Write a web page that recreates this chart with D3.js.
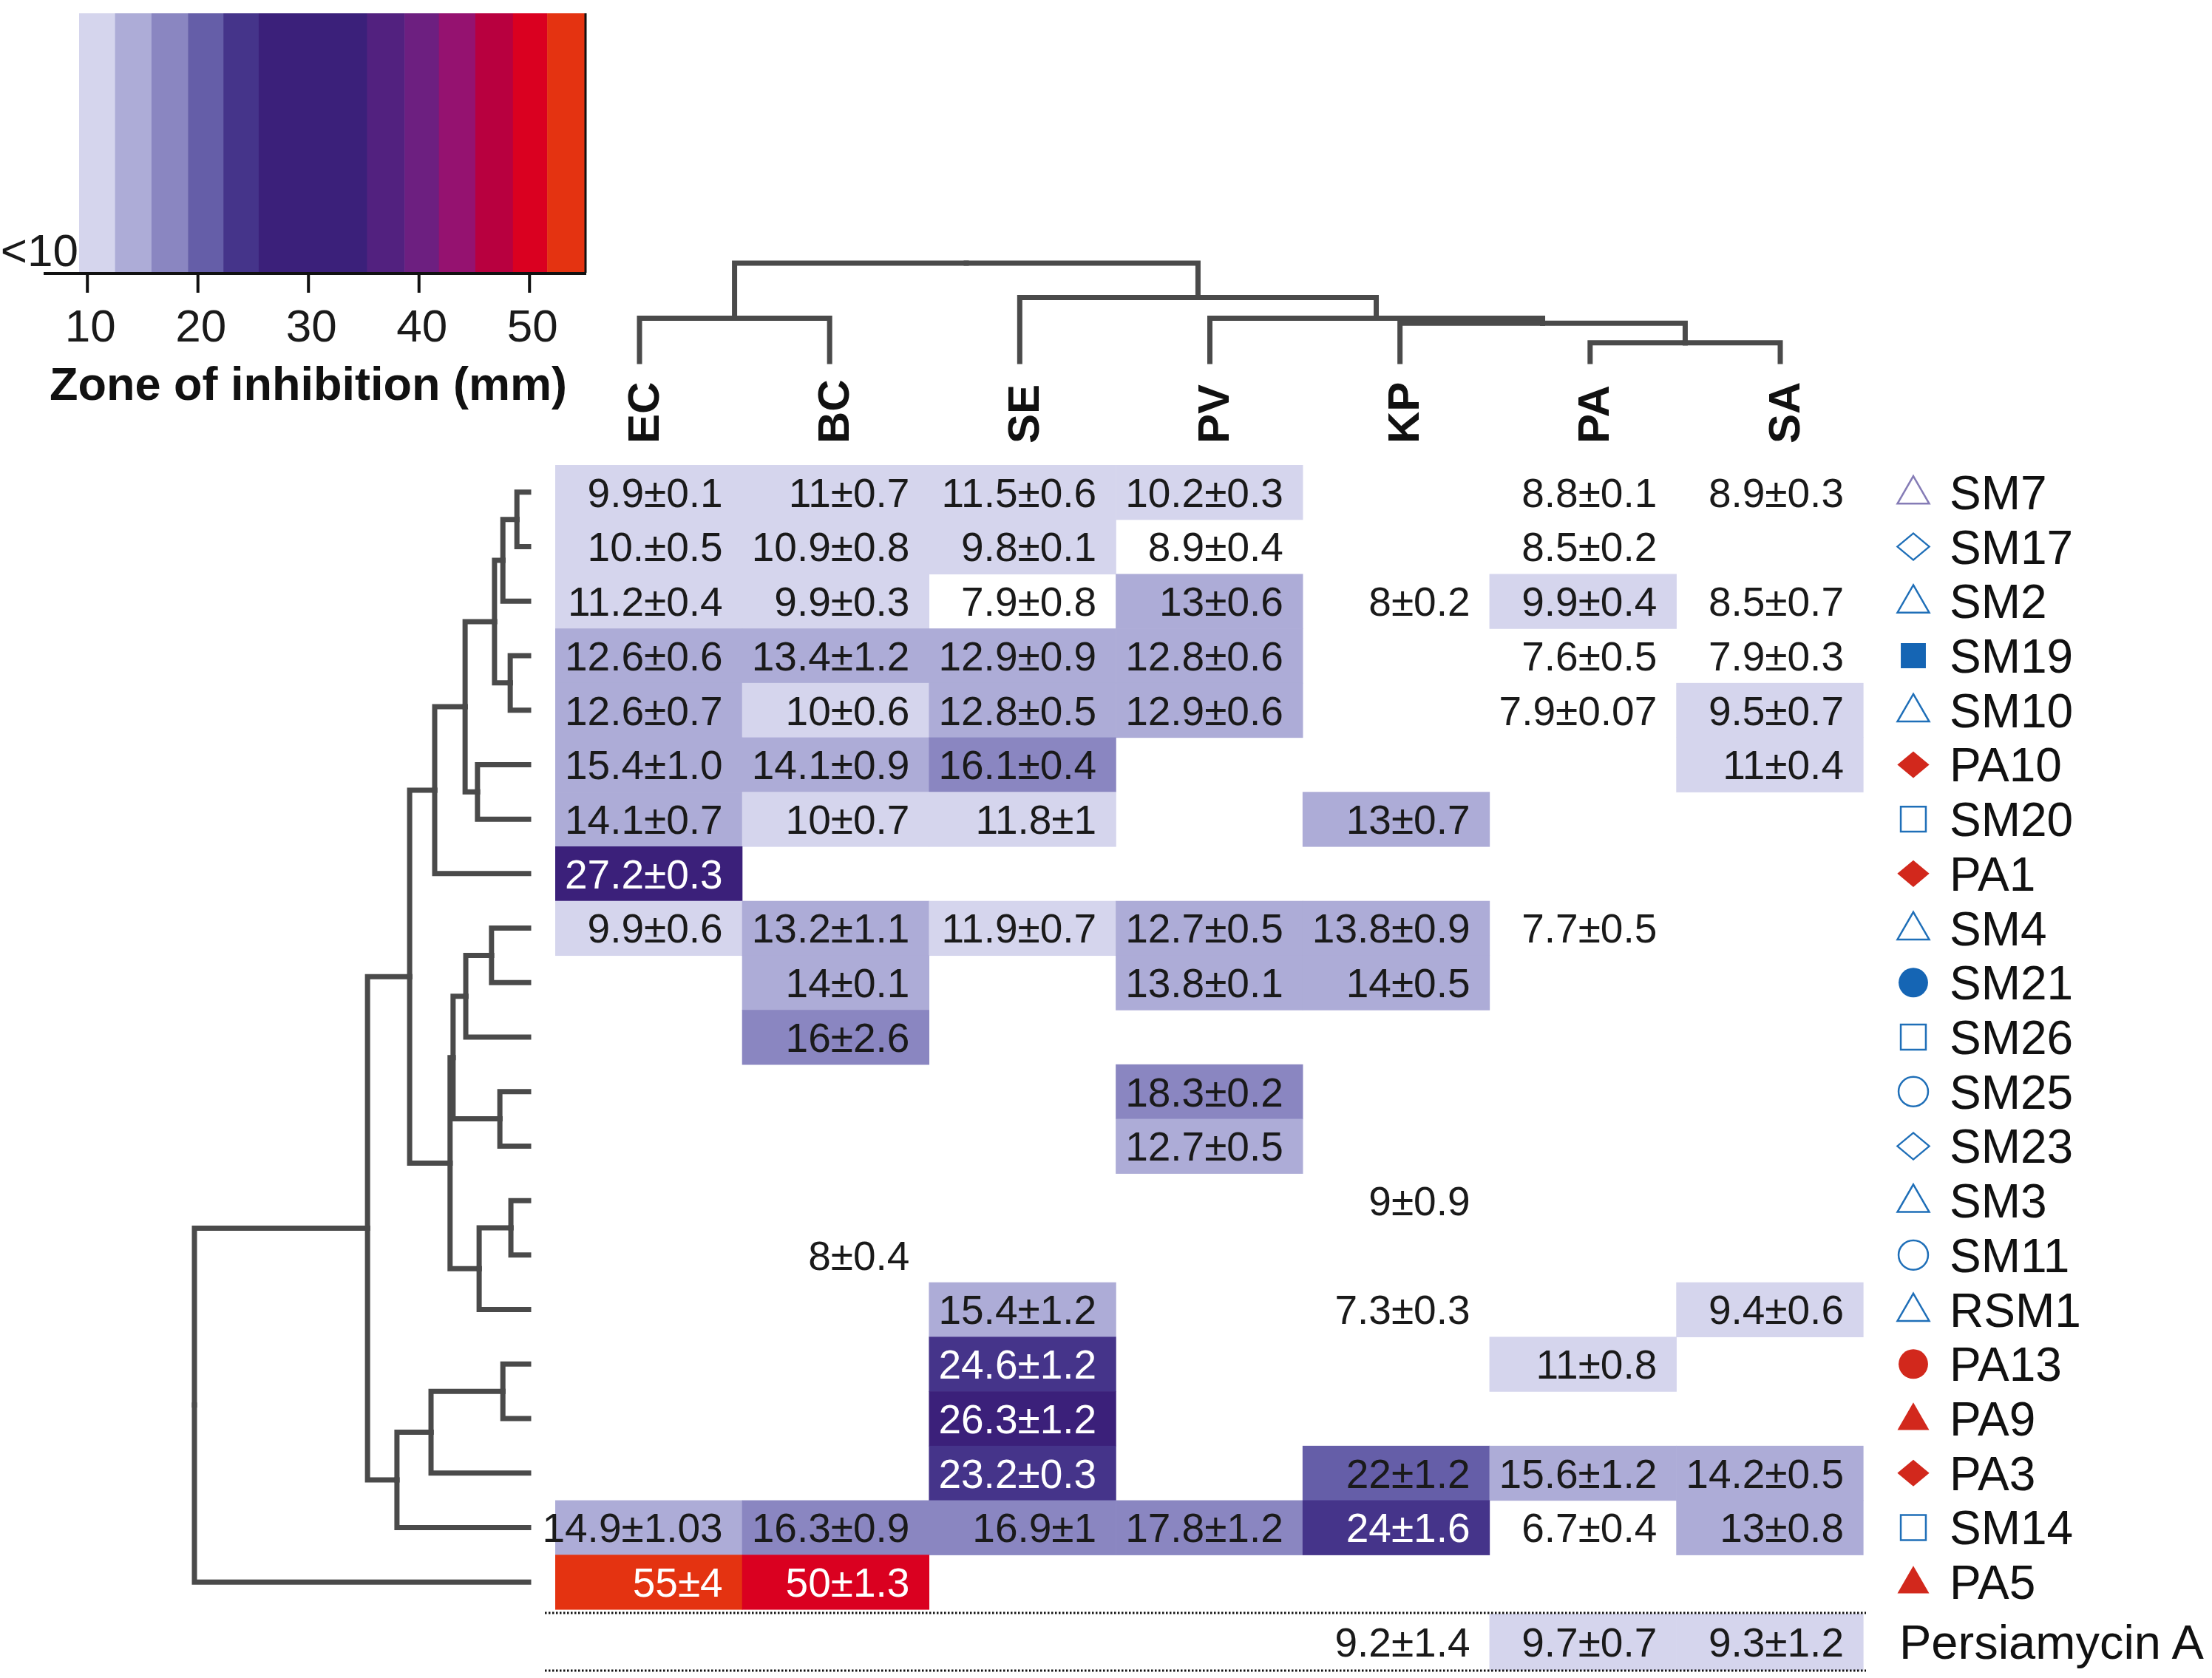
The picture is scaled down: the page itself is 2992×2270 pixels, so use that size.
<!DOCTYPE html>
<html>
<head>
<meta charset="utf-8">
<script src="https://cdn.jsdelivr.net/npm/d3@7"></script>
<style>
  body { margin: 0; background: #fff; }
  text { font-family: "Liberation Sans", Arial, sans-serif; }
</style>
</head>
<body>
<div id="viz"></div>
<script>
var cols = ["EC", "BC", "SE", "PV", "KP", "PA", "SA"];
var rows = ["SM7", "SM17", "SM2", "SM19", "SM10", "PA10", "SM20", "PA1", "SM4", "SM21", "SM26",
            "SM25", "SM23", "SM3", "SM11", "RSM1", "PA13", "PA9", "PA3", "SM14", "PA5"];
var rowShape = ["triangle", "diamond", "triangle", "square", "triangle", "diamond", "square", "diamond",
                "triangle", "circle", "square", "circle", "diamond", "triangle", "circle", "triangle",
                "circle", "triangle", "diamond", "square", "triangle"];
var rowFilled = [0, 0, 0, 1, 0, 1, 0, 1, 0, 1, 0, 0, 0, 0, 0, 0, 1, 1, 1, 0, 1];

// zone of inhibition "mean±sd" per row, columns in the order of cols; null = no zone
var zones = [
  ["9.9±0.1", "11±0.7", "11.5±0.6", "10.2±0.3", null, "8.8±0.1", "8.9±0.3"],
  ["10.±0.5", "10.9±0.8", "9.8±0.1", "8.9±0.4", null, "8.5±0.2", null],
  ["11.2±0.4", "9.9±0.3", "7.9±0.8", "13±0.6", "8±0.2", "9.9±0.4", "8.5±0.7"],
  ["12.6±0.6", "13.4±1.2", "12.9±0.9", "12.8±0.6", null, "7.6±0.5", "7.9±0.3"],
  ["12.6±0.7", "10±0.6", "12.8±0.5", "12.9±0.6", null, "7.9±0.07", "9.5±0.7"],
  ["15.4±1.0", "14.1±0.9", "16.1±0.4", null, null, null, "11±0.4"],
  ["14.1±0.7", "10±0.7", "11.8±1", null, "13±0.7", null, null],
  ["27.2±0.3", null, null, null, null, null, null],
  ["9.9±0.6", "13.2±1.1", "11.9±0.7", "12.7±0.5", "13.8±0.9", "7.7±0.5", null],
  [null, "14±0.1", null, "13.8±0.1", "14±0.5", null, null],
  [null, "16±2.6", null, null, null, null, null],
  [null, null, null, "18.3±0.2", null, null, null],
  [null, null, null, "12.7±0.5", null, null, null],
  [null, null, null, null, "9±0.9", null, null],
  [null, "8±0.4", null, null, null, null, null],
  [null, null, "15.4±1.2", null, "7.3±0.3", null, "9.4±0.6"],
  [null, null, "24.6±1.2", null, null, "11±0.8", null],
  [null, null, "26.3±1.2", null, null, null, null],
  [null, null, "23.2±0.3", null, "22±1.2", "15.6±1.2", "14.2±0.5"],
  ["14.9±1.03", "16.3±0.9", "16.9±1", "17.8±1.2", "24±1.6", "6.7±0.4", "13±0.8"],
  ["55±4", "50±1.3", null, null, null, null, null]
];
var controlName = "Persiamycin A";
var controlZones = [null, null, null, null, "9.2±1.4", "9.7±0.7", "9.3±1.2"];

// colour bar: band edges (mm) and band colours
var cbStops = [9.25, 12.5, 15.8, 19.1, 22.3, 25.5, 35.3, 38.7, 41.8, 45.1, 48.5, 51.6, 55];
var cbColors = ["#d5d5ed", "#adacd7", "#8a86c1", "#655ea8", "#45348a", "#3b207a", "#52217f",
                "#6d1f80", "#951270", "#b8003f", "#da0020", "#e43311"];
var cbTicks = [10, 20, 30, 40, 50];

// dendrograms (h = relative linkage distance)
var colTree = {h: 1.0, c: [
  {h: 0.44, c: [{n: "EC"}, {n: "BC"}]},
  {h: 0.65, c: [{n: "SE"},
    {h: 0.44, c: [{n: "PV"},
      {h: 0.39, c: [{n: "KP"}, {h: 0.19, c: [{n: "PA"}, {n: "SA"}]}]}]}]}
]};
var rowTree = {h: 1.0, c: [
  {h: 0.482, c: [
    {h: 0.356, c: [
      {h: 0.281, c: [
        {h: 0.190, c: [
          {h: 0.102, c: [
            {h: 0.077, c: [{h: 0.035, c: [{n: "SM7"}, {n: "SM17"}]}, {n: "SM2"}]},
            {h: 0.055, c: [{n: "SM19"}, {n: "SM10"}]}]},
          {h: 0.153, c: [{n: "PA10"}, {n: "SM20"}]}]},
        {n: "PA1"}]},
      {h: 0.235, c: [
        {h: 0.226, c: [
          {h: 0.188, c: [{h: 0.111, c: [{n: "SM4"}, {n: "SM21"}]}, {n: "SM26"}]},
          {h: 0.086, c: [{n: "SM25"}, {n: "SM23"}]}]},
        {h: 0.148, c: [{h: 0.053, c: [{n: "SM3"}, {n: "SM11"}]}, {n: "RSM1"}]}]}]},
    {h: 0.394, c: [
      {h: 0.292, c: [{h: 0.077, c: [{n: "PA13"}, {n: "PA9"}]}, {n: "PA3"}]},
      {n: "SM14"}]}]},
  {n: "PA5"}
]};

var W = 2992, H = 2270;
var svg = d3.select("#viz").append("svg").attr("width", W).attr("height", H);

var x = d3.scaleBand().domain(cols).range([751, 2520]);
var xLeaf = d3.scalePoint().domain(cols).range([865, 2408]);
var y = d3.scaleBand().domain(rows).range([629, 2177]);
var yCtrl = [2183, 2259];
var heat = d3.scaleThreshold().domain(cbStops.slice(0, -1)).range([null].concat(cbColors));

function mean(s) { return parseFloat(s.split("±")[0]); }

// ---- colour bar ----
var cx = d3.scaleLinear().domain([cbStops[0], cbStops[cbStops.length - 1]]).range([107, 791]);
var cbTop = 18, cbBot = 369;
svg.append("g").selectAll("rect")
  .data(cbColors)
  .enter().append("rect")
  .attr("x", function(d, i) { return cx(cbStops[i]); })
  .attr("width", function(d, i) { return cx(cbStops[i + 1]) - cx(cbStops[i]) + 0.5; })
  .attr("y", cbTop).attr("height", cbBot - cbTop)
  .attr("fill", function(d) { return d; });
svg.append("line").attr("x1", cx.range()[1] + 1).attr("x2", cx.range()[1] + 1)
  .attr("y1", cbTop).attr("y2", cbBot).attr("stroke", "#111").attr("stroke-width", 3);
svg.append("line").attr("x1", 59).attr("x2", 793).attr("y1", cbBot + 1).attr("y2", cbBot + 1)
  .attr("stroke", "#111").attr("stroke-width", 4);
var cbAxis = svg.append("g").selectAll("g").data(cbTicks).enter().append("g");
cbAxis.append("line")
  .attr("x1", function(d) { return cx(d); }).attr("x2", function(d) { return cx(d); })
  .attr("y1", cbBot).attr("y2", cbBot + 27).attr("stroke", "#111").attr("stroke-width", 4);
cbAxis.append("text")
  .attr("x", function(d) { return cx(d) + 4; }).attr("y", 462)
  .attr("text-anchor", "middle").attr("font-size", 62).attr("fill", "#1a1a1a")
  .text(function(d) { return d; });
svg.append("text").attr("x", 106).attr("y", 360).attr("text-anchor", "end")
  .attr("font-size", 62).attr("fill", "#1a1a1a").text("<10");
svg.append("text").attr("x", 417).attr("y", 541).attr("text-anchor", "middle")
  .attr("font-size", 63).attr("font-weight", "bold").attr("fill", "#111")
  .text("Zone of inhibition (mm)");

// ---- dendrograms ----
function layout(tree, leafPos) {
  var root = d3.hierarchy(tree, function(d) { return d.c; });
  root.eachAfter(function(n) {
    n.pos = n.children ? d3.mean(n.children, function(c) { return c.pos; }) : leafPos(n.data.n);
    n.dist = n.children ? n.data.h : 0;
  });
  return root.descendants().filter(function(n) { return n.parent; });
}

var colDist = d3.scaleLinear().domain([0, 1]).range([489, 356]);
svg.append("g").selectAll("path")
  .data(layout(colTree, function(k) { return xLeaf(k); }))
  .enter().append("path")
  .attr("d", function(n) {
    return "M" + n.pos + "," + colDist(n.dist) + "V" + colDist(n.parent.dist) + "H" + n.parent.pos;
  })
  .attr("fill", "none").attr("stroke", "#4a4a4a").attr("stroke-width", 7)
  .attr("stroke-linecap", "square");

var rowDist = d3.scaleLinear().domain([0, 1]).range([715, 263]);
svg.append("g").selectAll("path")
  .data(layout(rowTree, function(k) { return y(k) + y.bandwidth() / 2; }))
  .enter().append("path")
  .attr("d", function(n) {
    return "M" + rowDist(n.dist) + "," + n.pos + "H" + rowDist(n.parent.dist) + "V" + n.parent.pos;
  })
  .attr("fill", "none").attr("stroke", "#4a4a4a").attr("stroke-width", 7)
  .attr("stroke-linecap", "square");

// column labels
svg.append("g").selectAll("text")
  .data(cols)
  .enter().append("text")
  .attr("transform", function(d) { return "translate(" + (xLeaf(d) + 4) + ",600) rotate(-90)"; })
  .attr("dy", "0.36em")
  .attr("font-size", 60).attr("font-weight", "bold").attr("fill", "#111")
  .text(function(d) { return d; });

// ---- heat map cells ----
var cells = [];
zones.forEach(function(r, i) {
  r.forEach(function(v, j) {
    if (v) cells.push({row: rows[i], col: cols[j], label: v, value: mean(v),
                       y0: y(rows[i]), y1: y(rows[i]) + y.bandwidth()});
  });
});
controlZones.forEach(function(v, j) {
  if (v) cells.push({row: controlName, col: cols[j], label: v, value: mean(v), y0: yCtrl[0], y1: yCtrl[1]});
});

svg.append("g").selectAll("rect")
  .data(cells.filter(function(d) { return heat(d.value); }))
  .enter().append("rect")
  .attr("x", function(d) { return x(d.col); })
  .attr("y", function(d) { return d.y0; })
  .attr("width", x.bandwidth() + 0.6)
  .attr("height", function(d) { return d.y1 - d.y0 + 0.6; })
  .attr("fill", function(d) { return heat(d.value); });

svg.append("g").selectAll("text")
  .data(cells)
  .enter().append("text")
  .attr("x", function(d) { return x(d.col) + x.bandwidth() - 26; })
  .attr("y", function(d) { return (d.y0 + d.y1) / 2; })
  .attr("dy", "0.36em")
  .attr("text-anchor", "end").attr("font-size", 55)
  .attr("fill", function(d) { return d.value >= cbStops[4] ? "#fff" : "#1a1a1a"; })
  .text(function(d) { return d.label; });

// dotted separators around control row
svg.append("g").selectAll("line")
  .data(yCtrl)
  .enter().append("line")
  .attr("x1", 737).attr("x2", 2524)
  .attr("y1", function(d, i) { return i ? d + 1 : d - 1; })
  .attr("y2", function(d, i) { return i ? d + 1 : d - 1; })
  .attr("stroke", "#111").attr("stroke-width", 3).attr("stroke-dasharray", "2.5,2.5");

// ---- row symbols and labels ----
var symType = {triangle: d3.symbolTriangle, diamond: d3.symbolSquare, square: d3.symbolSquare, circle: d3.symbolCircle};
var symSize = {triangle: 800, diamond: 900, square: 1150, circle: 1250};
var lg = svg.append("g").selectAll("g")
  .data(rows)
  .enter().append("g")
  .attr("transform", function(d) { return "translate(0," + (y(d) + y.bandwidth() / 2) + ")"; });
lg.append("path")
  .attr("d", function(d, i) { return d3.symbol().type(symType[rowShape[i]]).size(symSize[rowShape[i]])(); })
  .attr("transform", function(d, i) {
    var s = rowShape[i];
    if (s == "diamond") return "translate(2588,0) scale(1.02,0.85) rotate(45)";
    if (s == "triangle") return "translate(2588,3)";
    return "translate(2588,0)";
  })
  .attr("fill", function(d, i) {
    if (!rowFilled[i]) return "none";
    return d.indexOf("PA") == 0 ? "#d2281c" : "#1565b4";
  })
  .attr("stroke", function(d, i) {
    if (rowFilled[i]) return "none";
    return d == "SM7" ? "#857cb6" : "#1f6fb8";
  })
  .attr("stroke-width", 2.5);
lg.append("text")
  .attr("x", 2637).attr("dy", "0.36em")
  .attr("font-size", 64).attr("fill", "#111")
  .text(function(d) { return d; });
svg.append("text")
  .attr("x", 2569).attr("y", (yCtrl[0] + yCtrl[1]) / 2).attr("dy", "0.36em")
  .attr("font-size", 65).attr("fill", "#111")
  .text(controlName);
</script>
</body>
</html>
